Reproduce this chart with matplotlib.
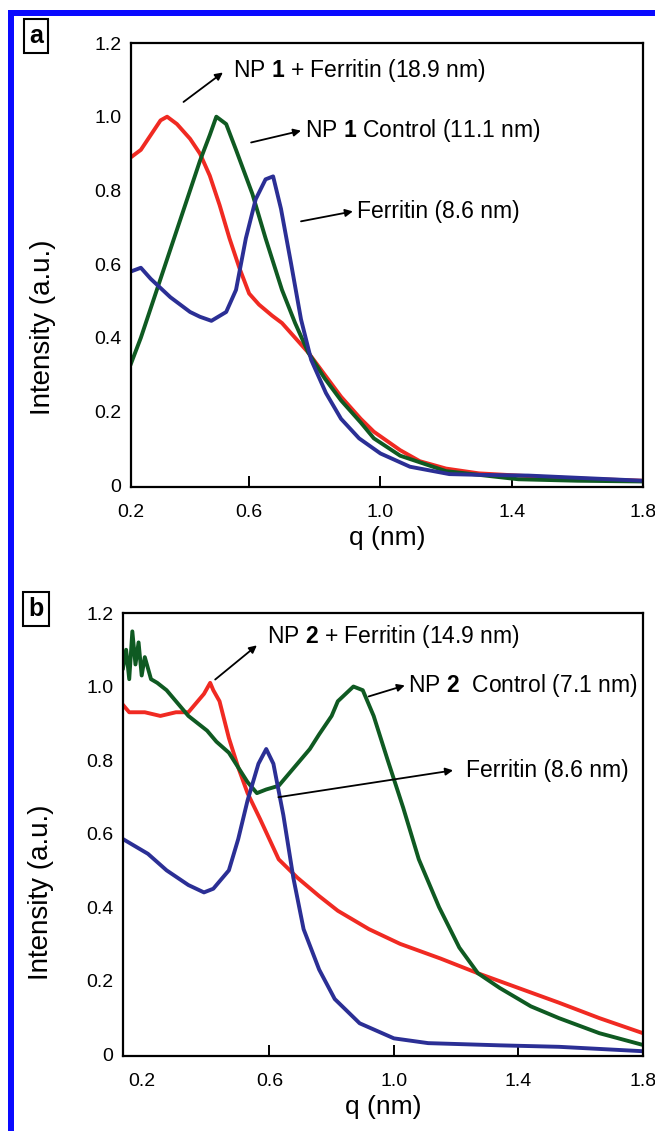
import matplotlib
matplotlib.use("Agg")
import matplotlib.pyplot as plt
from matplotlib.patches import Rectangle

plt.rcParams["font.family"] = ["Liberation Sans", "DejaVu Sans"]
plt.rcParams["mathtext.fontset"] = "custom"
plt.rcParams["mathtext.rm"] = "Liberation Sans"
plt.rcParams["mathtext.bf"] = "Liberation Sans:bold"

RED = "#f02a22"
GREEN = "#0f5a22"
BLUE = "#2b2f95"

# ---------------------------------------------------------------------------
# panel a data
# ---------------------------------------------------------------------------
a_red_q = [0.24, 0.27, 0.30, 0.33, 0.35, 0.38, 0.42, 0.45, 0.48, 0.51, 0.54,
           0.57, 0.60, 0.63, 0.67, 0.70, 0.74, 0.78, 0.83, 0.88, 0.94, 0.98,
           1.06, 1.12, 1.20, 1.30, 1.40, 1.50, 1.60, 1.70, 1.80]
a_red_i = [0.89, 0.91, 0.95, 0.99, 1.00, 0.98, 0.94, 0.90, 0.84, 0.76, 0.67,
           0.59, 0.52, 0.49, 0.46, 0.44, 0.40, 0.36, 0.30, 0.24, 0.18, 0.145,
           0.095, 0.065, 0.045, 0.032, 0.027, 0.022, 0.018, 0.015, 0.012]

a_green_q = [0.24, 0.27, 0.30, 0.33, 0.36, 0.39, 0.42, 0.45, 0.48, 0.50, 0.53,
             0.56, 0.61, 0.65, 0.70, 0.74, 0.78, 0.83, 0.88, 0.94, 0.98, 1.06,
             1.20, 1.42, 1.60, 1.80]
a_green_i = [0.33, 0.40, 0.48, 0.56, 0.64, 0.72, 0.80, 0.88, 0.95, 1.00, 0.98,
             0.91, 0.79, 0.67, 0.53, 0.44, 0.36, 0.29, 0.23, 0.17, 0.127, 0.08,
             0.038, 0.016, 0.012, 0.01]

a_blue_q = [0.24, 0.27, 0.30, 0.36, 0.42, 0.45, 0.485, 0.53, 0.56, 0.59, 0.62,
            0.65, 0.673, 0.697, 0.728, 0.758, 0.789, 0.834, 0.88, 0.935, 1.00,
            1.09, 1.21, 1.30, 1.45, 1.60, 1.80]
a_blue_i = [0.58, 0.59, 0.56, 0.51, 0.47, 0.457, 0.446, 0.47, 0.53, 0.67, 0.776,
            0.83, 0.838, 0.75, 0.60, 0.45, 0.34, 0.25, 0.18, 0.127, 0.086,
            0.05, 0.03, 0.028, 0.026, 0.02, 0.012]

# ---------------------------------------------------------------------------
# panel b data
# ---------------------------------------------------------------------------
b_red_q = [0.13, 0.15, 0.20, 0.25, 0.30, 0.34, 0.37, 0.39, 0.41, 0.42, 0.44,
           0.47, 0.50, 0.53, 0.57, 0.63, 0.69, 0.76, 0.82, 0.92, 1.02, 1.15,
           1.27, 1.40, 1.53, 1.66, 1.80]
b_red_i = [0.95, 0.93, 0.93, 0.92, 0.93, 0.93, 0.96, 0.98, 1.01, 0.99, 0.96,
           0.86, 0.78, 0.71, 0.64, 0.53, 0.48, 0.43, 0.39, 0.34, 0.30, 0.26,
           0.22, 0.18, 0.14, 0.098, 0.057]

b_green_q = [0.13, 0.14, 0.15, 0.16, 0.17, 0.18, 0.19, 0.20, 0.22, 0.24, 0.27,
             0.30, 0.34, 0.37, 0.40, 0.43, 0.47, 0.50, 0.53, 0.56, 0.59, 0.63,
             0.69, 0.73, 0.76, 0.80, 0.82, 0.87, 0.90, 0.935, 0.98, 1.03, 1.08,
             1.145, 1.21, 1.27, 1.34, 1.40, 1.44, 1.53, 1.66, 1.80]
b_green_i = [1.05, 1.10, 1.02, 1.15, 1.06, 1.12, 1.03, 1.08, 1.02, 1.01, 0.99,
             0.96, 0.92, 0.90, 0.88, 0.85, 0.82, 0.78, 0.74, 0.71, 0.72, 0.73,
             0.79, 0.83, 0.87, 0.92, 0.96, 1.00, 0.99, 0.92, 0.80, 0.67, 0.53,
             0.40, 0.29, 0.22, 0.18, 0.15, 0.13, 0.098, 0.057, 0.025]

b_blue_q = [0.13, 0.21, 0.27, 0.34, 0.39, 0.42, 0.47, 0.50, 0.53, 0.565, 0.59,
            0.613, 0.645, 0.677, 0.71, 0.76, 0.81, 0.89, 1.00, 1.11, 1.34, 1.53,
            1.80]
b_blue_i = [0.585, 0.545, 0.50, 0.46, 0.44, 0.45, 0.50, 0.585, 0.69, 0.79, 0.83,
            0.79, 0.65, 0.48, 0.34, 0.23, 0.15, 0.084, 0.043, 0.03, 0.024, 0.02,
            0.008]

x_ticks = [0.6, 1.0, 1.4, 1.8]
y_ticks = [0, 0.2, 0.4, 0.6, 0.8, 1.0, 1.2]
y_labels = ["0", "0.2", "0.4", "0.6", "0.8", "1.0", "1.2"]

W, H = 655, 1131
fig = plt.figure(figsize=(W / 100, H / 100), dpi=100)


def setup_axes(ax, xmin, first_tick):
    for s in ax.spines.values():
        s.set_linewidth(1.6)
    ax.set_xlim(xmin, 1.8)
    ax.set_ylim(-0.005, 1.2)
    ax.set_xticks([first_tick] + x_ticks)
    ax.set_xticklabels(["0.2"] + [f"{t:.1f}" for t in x_ticks])
    ax.xaxis.get_major_ticks()[0].tick1line.set_visible(False)
    ax.tick_params(axis="x", direction="in", length=8, width=1.4, pad=12,
                   labelsize=14)
    ax.set_yticks(y_ticks)
    ax.set_yticklabels(y_labels)
    ax.tick_params(axis="y", length=0, pad=7, labelsize=14)
    ax.set_xlabel("q (nm)", fontsize=19, labelpad=4)
    ax.set_ylabel("Intensity (a.u.)", fontsize=20)


def arrow(ax, tail, head, text, dx, ty=None):
    ax.annotate("", xy=head, xytext=tail,
                arrowprops=dict(arrowstyle="-|>", color="black", lw=1.3,
                                mutation_scale=11, shrinkA=0, shrinkB=0))
    ax.text(head[0] + dx, head[1] if ty is None else ty, text, fontsize=16.5,
            ha="left", va="center")


# ── panel a ──────────────────────────────────────────────
ax1 = fig.add_axes([131 / W, 1 - 487 / H, 512 / W, 444 / H])
ax1.plot(a_red_q, a_red_i, color=RED, lw=2.8)
ax1.plot(a_green_q, a_green_i, color=GREEN, lw=2.8)
ax1.plot(a_blue_q, a_blue_i, color=BLUE, lw=2.8)
setup_axes(ax1, 0.24, 0.24)
ax1.yaxis.set_label_coords(-0.146, 0.36)
arrow(ax1, (0.40, 1.04), (0.52, 1.12), r"NP $\mathbf{1}$ + Ferritin (18.9 nm)",
      0.03, 1.125)
arrow(ax1, (0.606, 0.93), (0.758, 0.962), r"NP $\mathbf{1}$ Control (11.1 nm)",
      0.012)
arrow(ax1, (0.758, 0.716), (0.916, 0.743), "Ferritin (8.6 nm)", 0.012)

# ── panel b ──────────────────────────────────────────────
ax2 = fig.add_axes([123 / W, 1 - 1056 / H, 520 / W, 443 / H])
ax2.plot(b_red_q, b_red_i, color=RED, lw=2.8)
ax2.plot(b_green_q, b_green_i, color=GREEN, lw=2.8)
ax2.plot(b_blue_q, b_blue_i, color=BLUE, lw=2.8)
setup_axes(ax2, 0.13, 0.19)
ax2.yaxis.set_label_coords(-0.133, 0.37)
arrow(ax2, (0.426, 1.019), (0.56, 1.112), r"NP $\mathbf{2}$ + Ferritin (14.9 nm)",
      0.032, 1.135)
arrow(ax2, (0.919, 0.973), (1.035, 1.003), r"NP $\mathbf{2}$  Control (7.1 nm)",
      0.01)
arrow(ax2, (0.629, 0.699), (1.19, 0.772), "Ferritin (8.6 nm)", 0.04)

# panel letters
for lab, yc in [("a", 36), ("b", 609)]:
    fig.text(36 / W, 1 - yc / H, lab, fontsize=18, fontweight="bold",
             ha="center", va="center",
             bbox=dict(boxstyle="square,pad=0.2", fc="white", ec="black",
                       lw=1.5))

# blue frame (top and left edge)
fig.add_artist(Rectangle((8 / W, 0), 6 / W, 1 - 10 / H, transform=fig.transFigure,
                         color="#0a0aff", lw=0))
fig.add_artist(Rectangle((8 / W, 1 - 16 / H), 1, 6 / H, transform=fig.transFigure,
                         color="#0a0aff", lw=0))

fig.savefig("out.png", dpi=100)
